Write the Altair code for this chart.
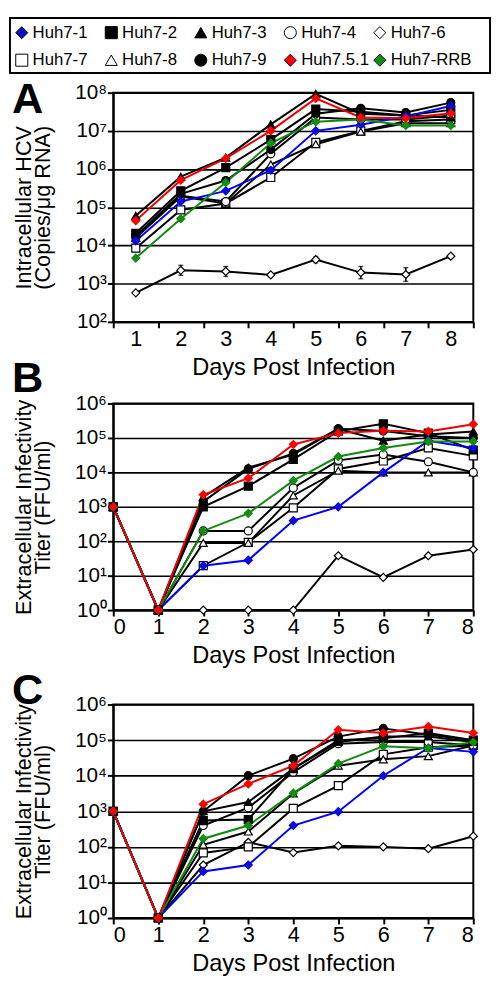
import altair as alt
import pandas as pd

# ---------------- data (log10 units) ----------------
series = ["Huh7-1", "Huh7-2", "Huh7-3", "Huh7-4", "Huh7-6",
          "Huh7-7", "Huh7-8", "Huh7-9", "Huh7.5.1", "Huh7-RRB"]
shapes = ["diamond", "square", "triangle-up", "circle", "diamond",
          "square", "triangle-up", "circle", "diamond", "diamond"]
fills = ["#1010c8", "#000000", "#000000", "#ffffff", "#ffffff",
         "#ffffff", "#ffffff", "#000000", "#ff0000", "#109010"]
strokes = ["#0000ff", "#000000", "#000000", "#000000", "#000000",
           "#000000", "#000000", "#000000", "#ff0000", "#108a10"]
line_colors = ["#0000ff", "#000000", "#000000", "#000000", "#000000",
               "#000000", "#000000", "#000000", "#ee0000", "#108a10"]
draw_order = ["Huh7-6", "Huh7-7", "Huh7-8", "Huh7-4", "Huh7-2",
              "Huh7-3", "Huh7-9", "Huh7-1", "Huh7-RRB", "Huh7.5.1"]

days_a = [1, 2, 3, 4, 5, 6, 7, 8]
days_bc = [0, 1, 2, 3, 4, 5, 6, 7, 8]

intracellular = {
    "Huh7-1":   [4.12, 5.15, 5.43, 5.97, 7.00, 7.16, 7.38, 7.65],
    "Huh7-2":   [4.32, 5.43, 6.04, 6.77, 7.57, 7.50, 7.40, 7.55],
    "Huh7-3":   [4.78, 5.80, 6.30, 7.17, 7.97, 7.45, 7.40, 7.35],
    "Huh7-4":   [4.20, 5.30, 5.15, 6.40, 7.35, 7.30, 7.30, 7.40],
    "Huh7-6":   [2.76, 3.35, 3.32, 3.23, 3.63, 3.29, 3.24, 3.72],
    "Huh7-7":   [3.93, 4.93, 5.10, 5.78, 6.70, 7.00, 7.25, 7.30],
    "Huh7-8":   [4.20, 5.28, 5.10, 6.12, 6.65, 6.98, 7.20, 7.20],
    "Huh7-9":   [4.25, 5.35, 5.70, 6.51, 7.45, 7.59, 7.48, 7.74],
    "Huh7.5.1": [4.65, 5.71, 6.28, 7.00, 7.85, 7.35, 7.33, 7.46],
    "Huh7-RRB": [3.67, 4.70, 5.65, 6.68, 7.24, 7.30, 7.14, 7.14],
}
huh76_err = [0.0, 0.13, 0.13, 0.04, 0.08, 0.16, 0.18, 0.05]

extracellular_b = {
    "Huh7-1":   [3, 0, 1.29, 1.45, 2.60, 3.00, 4.00, 4.92, 4.71],
    "Huh7-2":   [3, 0, 3.00, 3.60, 4.38, 5.20, 5.41, 5.14, 4.65],
    "Huh7-3":   [3, 0, 3.29, 4.14, 4.52, 5.26, 4.92, 5.10, 5.19],
    "Huh7-4":   [3, 0, 2.30, 2.30, 3.55, 4.35, 4.52, 4.31, 4.00],
    "Huh7-6":   [3, 0, 0.00, 0.00, 0.00, 1.58, 0.95, 1.58, 1.76],
    "Huh7-7":   [3, 0, 1.29, 1.97, 2.97, 4.10, 4.33, 4.71, 4.48],
    "Huh7-8":   [3, 0, 1.95, 1.95, 3.33, 4.05, 4.00, 4.00, 4.00],
    "Huh7-9":   [3, 0, 3.15, 4.10, 4.55, 5.27, 5.20, 5.05, 5.00],
    "Huh7.5.1": [3, 0, 3.35, 3.83, 4.81, 5.14, 5.21, 5.19, 5.40],
    "Huh7-RRB": [3, 0, 2.30, 2.81, 3.76, 4.46, 4.71, 4.90, 4.90],
}

extracellular_c = {
    "Huh7-1":   [3, 0, 1.31, 1.49, 2.60, 2.99, 4.00, 4.78, 4.67],
    "Huh7-2":   [3, 0, 2.74, 2.77, 4.20, 5.00, 5.05, 5.20, 5.00],
    "Huh7-3":   [3, 0, 3.00, 3.26, 4.20, 4.95, 5.10, 5.10, 4.95],
    "Huh7-4":   [3, 0, 2.60, 3.10, 4.10, 4.90, 4.95, 4.95, 4.85],
    "Huh7-6":   [3, 0, 1.49, 2.13, 1.84, 2.03, 2.00, 1.95, 2.30],
    "Huh7-7":   [3, 0, 1.83, 2.00, 3.08, 3.72, 4.60, 4.80, 4.85],
    "Huh7-8":   [3, 0, 2.06, 2.43, 3.50, 4.28, 4.46, 4.55, 4.85],
    "Huh7-9":   [3, 0, 3.00, 4.00, 4.48, 5.10, 5.33, 5.15, 5.00],
    "Huh7.5.1": [3, 0, 3.20, 3.77, 4.28, 5.29, 5.20, 5.38, 5.20],
    "Huh7-RRB": [3, 0, 2.23, 2.60, 3.51, 4.34, 4.83, 4.77, 4.94],
}

a_ticks = [2, 3, 4, 5, 6, 7, 8]
bc_ticks = [0, 1, 2, 3, 4, 5, 6]
FONT = "Liberation Sans"


def long_df(d, days):
    rows = []
    for s in draw_order:
        for day, v in zip(days, d[s]):
            rows.append({"series": s, "day": day, "value": 10 ** v})
    return pd.DataFrame(rows)


sup_expr = ("'10' + ['\u2070','\u00b9','\u00b2','\u00b3','\u2074','\u2075',"
            "'\u2076','\u2077','\u2078'][round(log(datum.value)/LN10)]")

shape_scale = alt.Scale(domain=series, range=shapes)
fill_scale = alt.Scale(domain=series, range=fills)


def y_enc(field, ticks, title):
    return alt.Y(field, scale=alt.Scale(type="log", domain=[10 ** ticks[0], 10 ** ticks[-1]], nice=False),
                 axis=alt.Axis(values=[10 ** t for t in ticks], labelExpr=sup_expr, title=title,
                               grid=True, gridColor="black", gridWidth=1.6,
                               titlePadding=20, titleLineHeight=20))


def panel(df, x, ticks, title, letter, letter_y, height, err_df=None):
    y = y_enc("value:Q", ticks, title)
    color = alt.Color("series:N", scale=alt.Scale(domain=series, range=line_colors), legend=None)
    lines = alt.Chart(df).mark_line(strokeWidth=2).encode(x=x, y=y, color=color)
    pts = alt.Chart(df).mark_point(filled=True, size=66, strokeWidth=1.2, opacity=1).encode(
        x=x, y=y,
        shape=alt.Shape("series:N", scale=shape_scale, legend=None),
        fill=alt.Fill("series:N", scale=fill_scale, legend=None),
        stroke=alt.Stroke("series:N", scale=alt.Scale(domain=series, range=strokes), legend=None),
    )
    layers = [lines]
    if err_df is not None:
        err = alt.Chart(err_df).mark_errorbar(ticks=True, color="black", thickness=1.5).encode(
            x=x, y=y_enc("value:Q", ticks, title), y2="hi:Q")
        layers.append(err)
    layers.append(pts)
    txt = alt.Chart(pd.DataFrame({"t": [letter]})).mark_text(
        font=FONT, fontSize=44, fontWeight="bold", align="left", baseline="alphabetic"
    ).encode(text="t:N", x=alt.value(-103), y=alt.value(letter_y))
    layers.append(txt)
    return alt.layer(*layers).properties(width=366, height=height)


# ---------------- legend panel ----------------
legend_df = pd.DataFrame({
    "series": series,
    "col": [i % 5 for i in range(len(series))],
    "row": [i // 5 for i in range(len(series))],
})
lx = alt.X("col:Q", scale=alt.Scale(domain=[0, 4], range=[-93, 271]), axis=None)
ly = alt.Y("row:Q", scale=alt.Scale(domain=[0, 1], range=[15, 43]), axis=None)
legend_box = alt.Chart(pd.DataFrame({"b": [0]})).mark_rect(
    fill="white", fillOpacity=0, stroke="black", strokeWidth=2
).encode(x=alt.value(-105), x2=alt.value(383), y=alt.value(0), y2=alt.value(56))
legend_sym = alt.Chart(legend_df).mark_point(filled=True, size=150, stroke="black",
                                             strokeWidth=1, opacity=1).encode(
    x=lx, y=ly,
    shape=alt.Shape("series:N", scale=shape_scale, legend=None),
    fill=alt.Fill("series:N", scale=fill_scale, legend=None),
)
legend_txt = alt.Chart(legend_df).mark_text(font=FONT, fontSize=17, align="left",
                                            baseline="middle", dx=11).encode(
    x=lx, y=ly, text="series:N")
legend_chart = alt.layer(legend_box, legend_sym, legend_txt).properties(
    width=366, height=76, view=alt.ViewBackground(stroke="transparent"))

# ---------------- panels ----------------
df_a = long_df(intracellular, days_a)
err_rows = []
for day, v, e in zip(days_a, intracellular["Huh7-6"], huh76_err):
    if e > 0:
        err_rows.append({"day": day, "value": 10 ** (v - e), "hi": 10 ** (v + e)})
err_df = pd.DataFrame(err_rows)

x_a = alt.X("day:Q", scale=alt.Scale(domain=[0.5, 8.5], nice=False, zero=False),
            axis=alt.Axis(values=[0.5 + 0.5 * i for i in range(17)],
                          labelExpr="datum.value % 1 == 0 ? '' + datum.value : ''",
                          tickOpacity={"condition": {"test": "datum.value % 1 == 0", "value": 0}, "value": 1},
                          grid=False, title="Days Post Infection"))
x_bc = alt.X("day:Q", scale=alt.Scale(domain=[0, 8], nice=False, zero=False),
             axis=alt.Axis(values=days_bc, grid=False, title="Days Post Infection"))

chart_a = panel(df_a, x_a, a_ticks, ["Intracellular HCV", "(Copies/\u03bcg RNA)"], "A", 21, 233, err_df)
chart_b = panel(long_df(extracellular_b, days_bc), x_bc, bc_ticks,
                ["Extracellular Infectivity", "Titer (FFU/ml)"], "B", -12, 210)
chart_c = panel(long_df(extracellular_c, days_bc), x_bc, bc_ticks,
                ["Extracellular Infectivity", "Titer (FFU/ml)"], "C", -1, 217)


def spacer(h):
    return alt.Chart(pd.DataFrame({"s": [0]})).mark_point(opacity=0).encode(
        x=alt.value(0), y=alt.value(0)
    ).properties(width=366, height=h, view=alt.ViewBackground(stroke="transparent"))


chart = alt.vconcat(legend_chart, chart_a, spacer(83), chart_b, spacer(96), chart_c,
                    spacing=0, bounds="flush").properties(padding=0).configure_view(
    stroke="black", strokeWidth=2
).configure_axis(
    labelFont=FONT, titleFont=FONT, labelColor="black", titleColor="black",
    domainColor="black", domainWidth=2, tickColor="black", tickWidth=2, tickSize=6,
    titleFontWeight="normal", labelPadding=1
).configure_axisX(
    labelFontSize=22, titleFontSize=24, titlePadding=6
).configure_axisY(
    labelFontSize=21, titleFontSize=22
)

chart.save("out.html", embed_options={"renderer": "svg", "actions": False})
